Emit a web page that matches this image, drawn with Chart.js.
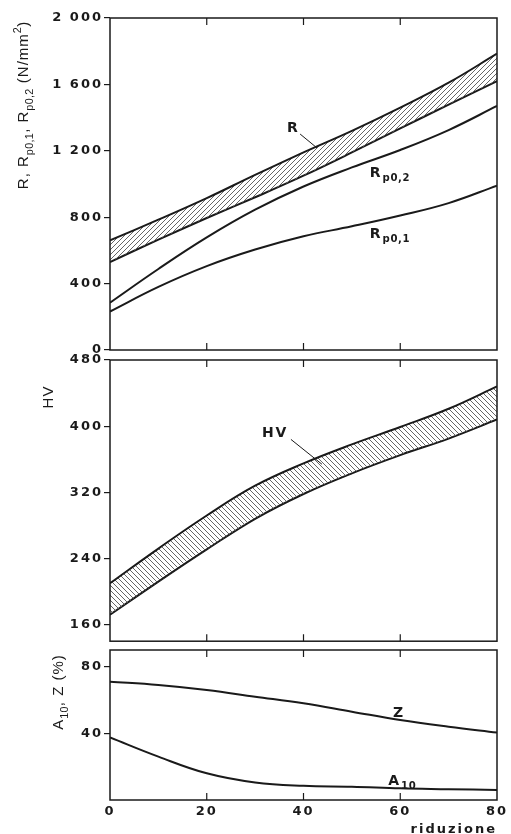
<!DOCTYPE html>
<html>
<head>
<meta charset="utf-8">
<script src="https://cdn.jsdelivr.net/npm/chart.js@4"></script>
<style>
  html, body { margin: 0; padding: 0; background: #fff; width: 511px; height: 834px; overflow: hidden; }
  .panel { position: absolute; left: 0; width: 511px; }
  canvas { display: block; }
</style>
</head>
<body>
<div class="panel" style="top:0"><canvas id="chartR" width="511" height="360"></canvas></div>
<div class="panel" style="top:350px"><canvas id="chartHV" width="511" height="300"></canvas></div>
<div class="panel" style="top:640px"><canvas id="chartA" width="511" height="200"></canvas></div>
<script>
// riduzione (%) -> valori
const reduction = [0, 10, 20, 30, 40, 50, 60, 70, 80];
const rUpper = [660, 785, 915, 1055, 1190, 1320, 1460, 1610, 1785];
const rLower = [530, 665, 795, 920, 1050, 1190, 1335, 1478, 1620];
const rp02 = [285, 488, 678, 845, 985, 1100, 1205, 1325, 1470];
const rp01 = [232, 380, 505, 605, 685, 745, 810, 885, 990];
const hvUpper = [210, 252, 292, 328, 355, 378, 399, 421, 448];
const hvLower = [172, 212, 251, 288, 318, 343, 365, 385, 408];
const zValues = [71, 69, 66, 62, 58, 53, 48, 44, 40.5];
const a10Values = [37.5, 26, 16, 10.5, 8.5, 8, 7, 6.5, 6];

const xTicks = [0, 20, 40, 60, 80];
const rTicks = [0, 400, 800, 1200, 1600, 2000];
const rTickLabels = ['0', '400', '800', '1 200', '1 600', '2 000'];
const hvTicks = [160, 240, 320, 400, 480];
const hvTickLabels = ['160', '240', '320', '400', '480'];
const pctTicks = [40, 80];
const pctTickLabels = ['40', '80'];

const INK = '#1a1a1a';
const tickFont = { family: 'DejaVu Sans', size: 13, weight: 'bold' };
const TITLE_FAMILY = '"Liberation Sans", Arial, sans-serif';
const LABEL_FAMILY = 'bold {s}px "DejaVu Sans", sans-serif';

function points(values) {
  return reduction.map((x, i) => ({ x, y: values[i] }));
}

function hatch(slash) {
  const size = 5;
  const c = document.createElement('canvas');
  c.width = c.height = size;
  const g = c.getContext('2d');
  g.strokeStyle = '#555';
  g.lineWidth = 0.9;
  g.beginPath();
  if (slash) { g.moveTo(-1, size + 1); g.lineTo(size + 1, -1); }
  else { g.moveTo(-1, -1); g.lineTo(size + 1, size + 1); }
  g.stroke();
  return g.createPattern(c, 'repeat');
}

function curve(values, extra) {
  return Object.assign({
    data: points(values),
    borderColor: INK,
    borderWidth: 2,
    pointRadius: 0,
    tension: 0.4,
    fill: false
  }, extra);
}

// testo con pedici / apici; family puo' contenere {s} per la dimensione
function richParts(parts, size, family) {
  return parts.map(p => {
    const [text, kind] = Array.isArray(p) ? p : [p, ''];
    const s = kind ? size * 0.72 : size;
    const dy = kind === 'sub' ? size * 0.32 : kind === 'sup' ? -size * 0.45 : 0;
    const font = family.includes('{s}') ? family.replace('{s}', s) : `${s}px ${family}`;
    return { text, font, dy, small: !!kind };
  });
}

function measureRich(ctx, parts, size, family, spacing) {
  let w = 0;
  richParts(parts, size, family).forEach(p => {
    ctx.font = p.font;
    ctx.letterSpacing = (p.small ? spacing / 3 : spacing) + 'px';
    w += ctx.measureText(p.text).width;
  });
  return w;
}

function drawRich(ctx, parts, x, y, size, family, spacing) {
  let cx = x;
  richParts(parts, size, family).forEach(p => {
    ctx.font = p.font;
    ctx.letterSpacing = (p.small ? spacing / 3 : spacing) + 'px';
    ctx.fillText(p.text, cx, y + p.dy);
    cx += ctx.measureText(p.text).width;
  });
}

const framePlugin = {
  id: 'frame',
  beforeDraw(chart) { chart.ctx.letterSpacing = '2px'; },
  afterDraw(chart, args, opts) {
    const { ctx, chartArea: a, scales: { x, y } } = chart;
    ctx.save();
    ctx.strokeStyle = INK;
    ctx.lineWidth = 1.5;
    ctx.strokeRect(a.left, a.top, a.right - a.left, a.bottom - a.top);
    ctx.lineWidth = 1.2;
    ctx.beginPath();
    xTicks.slice(1, -1).forEach(v => {
      const px = x.getPixelForValue(v);
      ctx.moveTo(px, a.top); ctx.lineTo(px, a.top + 7);
      ctx.moveTo(px, a.bottom); ctx.lineTo(px, a.bottom - 7);
    });
    ctx.stroke();

    ctx.fillStyle = INK;
    ctx.textBaseline = 'alphabetic';
    ctx.textAlign = 'left';
    (opts.labels || []).forEach(l => {
      drawRich(ctx, l.parts, x.getPixelForValue(l.x), y.getPixelForValue(l.y), 14, LABEL_FAMILY, 2);
    });
    ctx.lineWidth = 1;
    (opts.leaders || []).forEach(l => {
      ctx.beginPath();
      ctx.moveTo(x.getPixelForValue(l[0]), y.getPixelForValue(l[1]));
      ctx.lineTo(x.getPixelForValue(l[2]), y.getPixelForValue(l[3]));
      ctx.stroke();
    });

    if (opts.title) {
      const t = opts.title;
      const w = measureRich(ctx, t.parts, 15, TITLE_FAMILY, 1);
      ctx.translate(t.x, t.y);
      ctx.rotate(-Math.PI / 2);
      drawRich(ctx, t.parts, -w / 2, 0, 15, TITLE_FAMILY, 1);
    }
    ctx.restore();
  }
};

function makeOptions(yMin, yMax, yTicks, yLabels, padding, frame, showX) {
  return {
    responsive: false,
    animation: false,
    layout: { padding },
    plugins: { legend: { display: false }, tooltip: { enabled: false }, frame },
    scales: {
      x: {
        type: 'linear', min: 0, max: 80, display: showX,
        grid: { display: false }, border: { display: false },
        afterBuildTicks: s => { s.ticks = xTicks.map(value => ({ value })); },
        afterFit: s => { if (showX) s.height = 40; },
        ticks: { font: tickFont, color: INK, padding: -4, maxRotation: 0 },
        title: { display: showX, text: 'riduzione', align: 'end', font: tickFont, color: INK, padding: { top: 0, bottom: 3 } }
      },
      y: {
        min: yMin, max: yMax,
        afterFit: s => { s.width = 110; },
        afterBuildTicks: s => { s.ticks = yTicks.map(value => ({ value })); },
        grid: { drawOnChartArea: false, drawTicks: true, tickLength: 6, color: INK, lineWidth: 1.2 },
        border: { display: false },
        ticks: { font: tickFont, color: INK, padding: 1, callback: v => yLabels[yTicks.indexOf(v)] }
      }
    }
  };
}

new Chart(document.getElementById('chartR'), {
  type: 'line',
  data: {
    datasets: [
      curve(rUpper, { label: 'R', fill: '+1', backgroundColor: hatch(true) }),
      curve(rLower, { label: 'R min' }),
      curve(rp02, { label: 'Rp0,2' }),
      curve(rp01, { label: 'Rp0,1' })
    ]
  },
  options: makeOptions(0, 2000, rTicks, rTickLabels, { top: 18, bottom: 10, left: 0, right: 14 }, {
    labels: [
      { parts: ['R'], x: 36.6, y: 1313 },
      { parts: ['R', ['p0,2', 'sub']], x: 53.7, y: 1045 },
      { parts: ['R', ['p0,1', 'sub']], x: 53.7, y: 675 }
    ],
    leaders: [[39.3, 1301, 42.8, 1217]],
    title: { parts: ['R, R', ['p0,1', 'sub'], ', R', ['p0,2', 'sub'], ' (N/mm', ['2', 'sup'], ')'], x: 28, y: 105 }
  }, false),
  plugins: [framePlugin]
});

new Chart(document.getElementById('chartHV'), {
  type: 'line',
  data: {
    datasets: [
      curve(hvUpper, { label: 'HV', fill: '+1', backgroundColor: hatch(false) }),
      curve(hvLower, { label: 'HV min' })
    ]
  },
  options: makeOptions(140, 480, hvTicks, hvTickLabels, { top: 10, bottom: 7, left: 0, right: 14 }, {
    labels: [{ parts: ['HV'], x: 31.4, y: 387.5 }],
    leaders: [[37.4, 384, 43.8, 354]],
    title: { parts: ['HV'], x: 53, y: 47 }
  }, false),
  plugins: [framePlugin]
});

new Chart(document.getElementById('chartA'), {
  type: 'line',
  data: {
    datasets: [
      curve(zValues, { label: 'Z' }),
      curve(a10Values, { label: 'A10' })
    ]
  },
  options: makeOptions(0, 90, pctTicks, pctTickLabels, { top: 10, bottom: 0, left: 0, right: 14 }, {
    labels: [
      { parts: ['Z'], x: 58.5, y: 49.8 },
      { parts: ['A', ['10', 'sub']], x: 57.5, y: 9 }
    ],
    title: { parts: ['A', ['10', 'sub'], ', Z (%)'], x: 63, y: 52 }
  }, true),
  plugins: [framePlugin]
});
</script>
</body>
</html>
